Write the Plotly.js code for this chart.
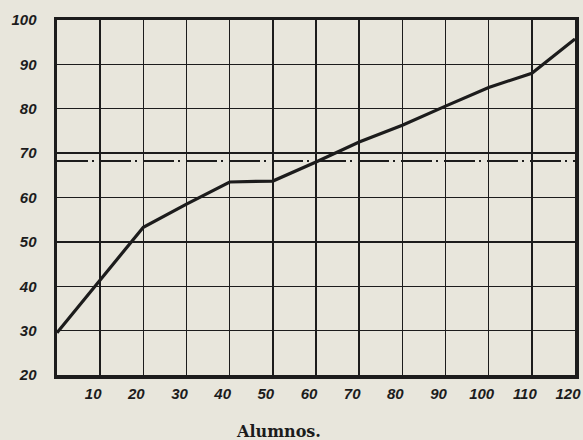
<!DOCTYPE html>
<html>
<head>
<meta charset="utf-8">
<script src="https://cdn.plot.ly/plotly-3.0.1.min.js"></script>
<style>
  html, body { margin: 0; padding: 0; background: #e8e6dc; }
  #chart { width: 583px; height: 440px; }
</style>
</head>
<body>
<div id="chart"></div>
<script>
// Data
const alumnos = [0, 10, 20, 30, 40, 50, 60, 70, 80, 90, 100, 110, 120];
const valores = [29.5, 41.5, 53.3, 58.5, 63.5, 63.7, 68, 72.5, 76.3, 80.6, 84.8, 88, 95.7];
const media = 68.2;
const xTicks = [10, 20, 30, 40, 50, 60, 70, 80, 90, 100, 110, 120];
const yTicks = [20, 30, 40, 50, 60, 70, 80, 90, 100];
const xTitle = "Alumnos.";

const ink = "#1c1c1c";
const paper = "#e8e6dc";

const traces = [
  {
    x: [alumnos[0], alumnos[alumnos.length - 1]],
    y: [media, media],
    mode: "lines",
    line: { color: ink, width: 2, dash: "31px,4px,2px,6px" },
    hoverinfo: "skip",
    showlegend: false
  },
  {
    x: alumnos,
    y: valores,
    mode: "lines",
    line: { color: ink, width: 3.2 },
    showlegend: false
  }
];

const tickFont = { family: "Liberation Sans, Arial, sans-serif", size: 15, color: ink, style: "italic", weight: "bold" };

const layout = {
  width: 583,
  height: 440,
  margin: { l: 57, r: 8, t: 20, b: 65 },
  paper_bgcolor: paper,
  plot_bgcolor: paper,
  showlegend: false,
  xaxis: {
    range: [0, 120],
    tickvals: xTicks,
    ticktext: xTicks.map(String),
    showgrid: true,
    gridcolor: ink,
    gridwidth: 1.4,
    zeroline: false,
    showline: true,
    mirror: true,
    linecolor: ink,
    linewidth: 3.5,
    ticks: "",
    ticklabelstandoff: 2,
    ticklabelshift: -7,
    ticklabeloverflow: "allow",
    tickfont: tickFont,
    fixedrange: true
  },
  yaxis: {
    range: [20, 100],
    tickvals: yTicks,
    ticktext: yTicks.map(String),
    showgrid: true,
    gridcolor: ink,
    gridwidth: 1.4,
    zeroline: false,
    showline: true,
    mirror: true,
    linecolor: ink,
    linewidth: 3.5,
    ticks: "",
    ticklabelstandoff: 14,
    ticklabeloverflow: "allow",
    tickfont: tickFont,
    fixedrange: true
  },
  annotations: [
    {
      text: xTitle,
      xref: "paper",
      yref: "paper",
      x: 0.427,
      y: -0.158,
      xanchor: "center",
      yanchor: "middle",
      showarrow: false,
      font: { family: "DejaVu Serif, serif", size: 16, color: ink, weight: "bold" }
    }
  ]
};

Plotly.newPlot("chart", traces, layout, { displayModeBar: false, staticPlot: true });
</script>
</body>
</html>
